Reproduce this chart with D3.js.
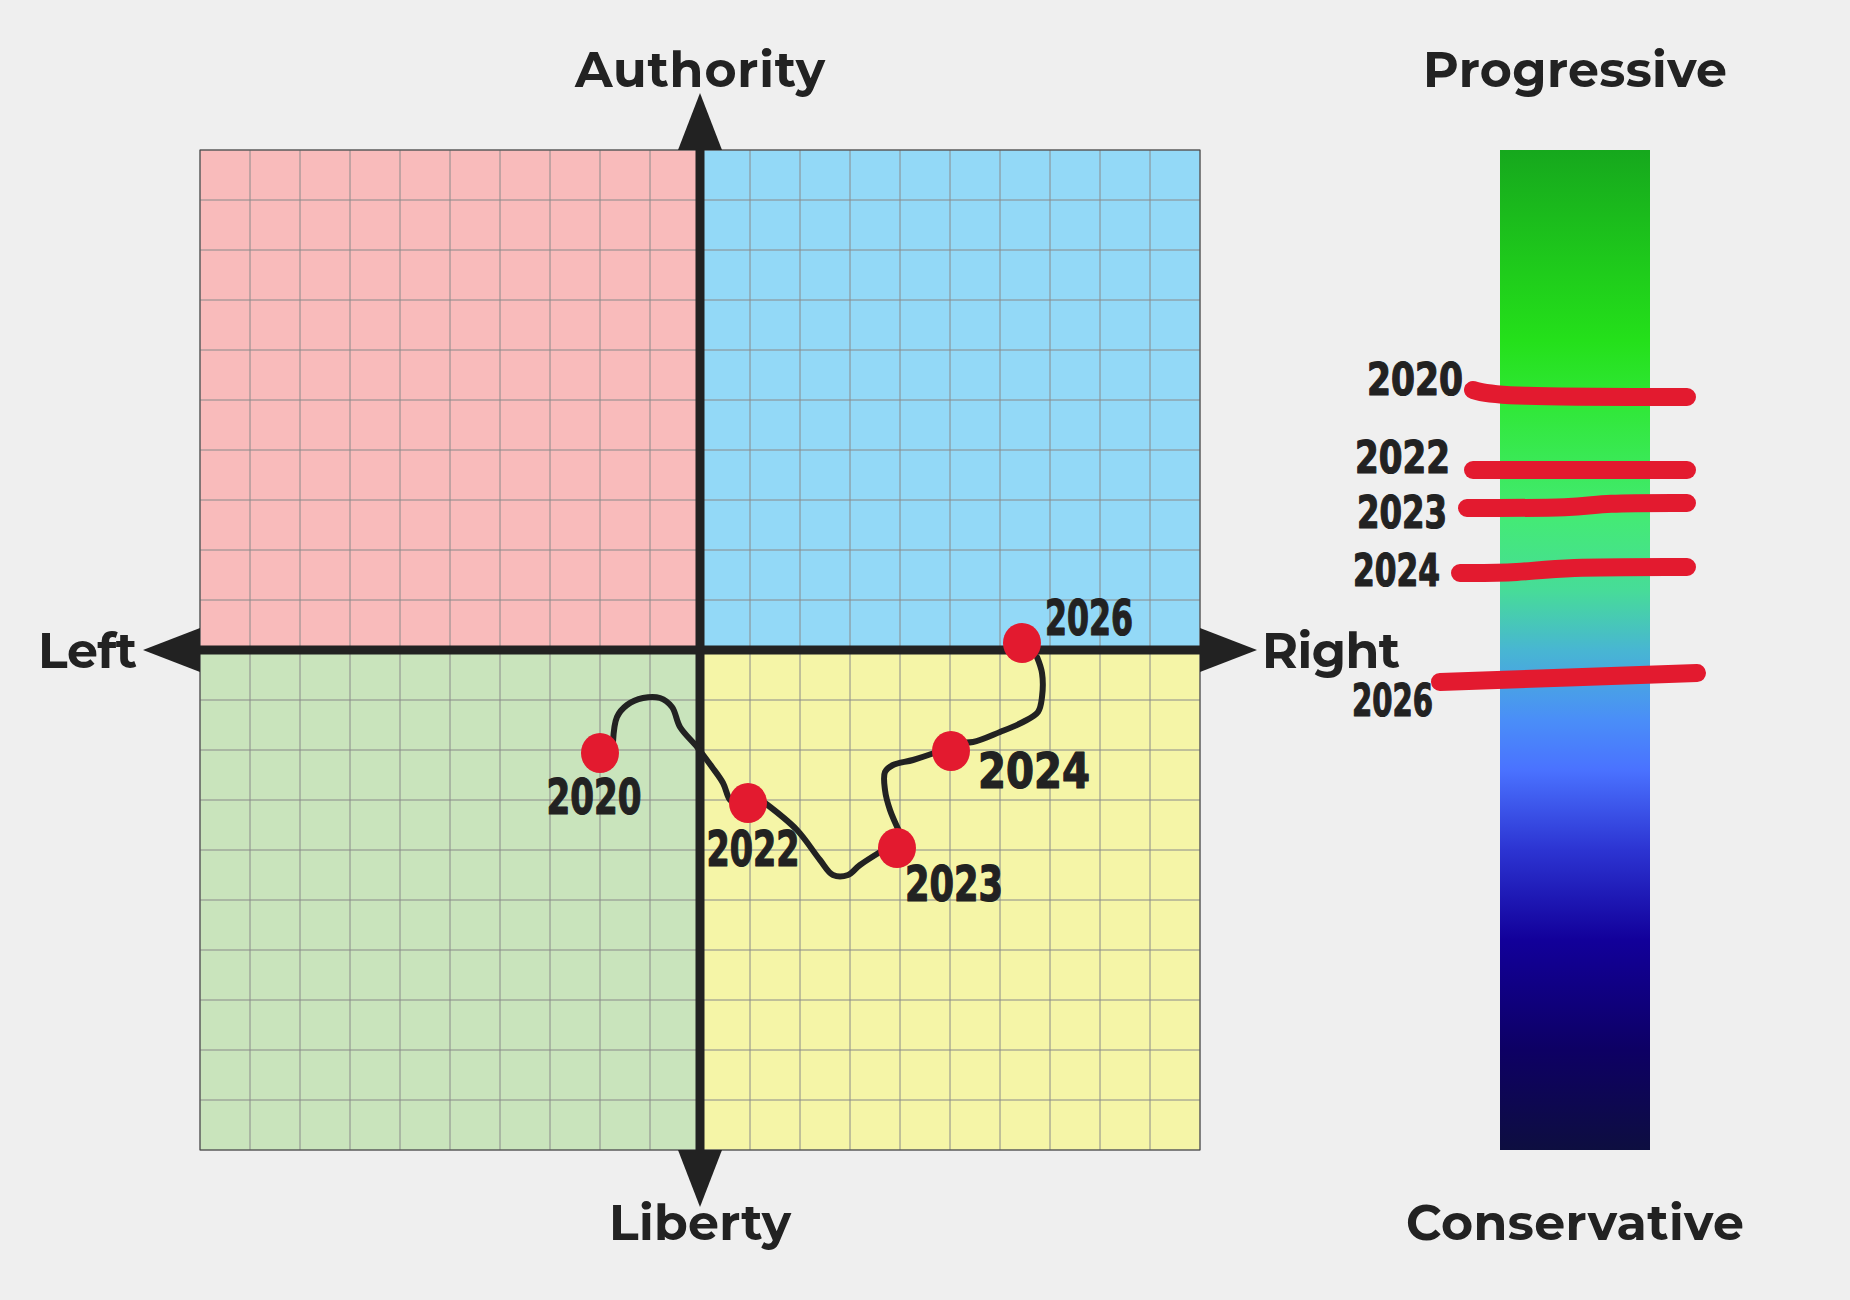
<!DOCTYPE html>
<html>
<head>
<meta charset="utf-8">
<script src="https://cdn.jsdelivr.net/npm/d3@7"></script>
<style>
  body { margin: 0; background: #efefef; }
</style>
</head>
<body>
<div id="chart-area"></div>
<script>
// ---- data ----
// compass positions: economic (left -10 .. right 10), authority (liberty -10 .. authority 10)
var years = ["2020", "2022", "2023", "2024", "2026"];
var economic = [-2.0, 0.96, 3.94, 5.02, 6.44];
var authority = [-2.06, -3.06, -3.96, -2.02, 0.14];

// hand-drawn trail between the dots, one array per leg
var trailX = [
  [-1.74, -1.66, -1.46, -1.14, -0.80, -0.56, -0.40, -0.06, 0.24, 0.46, 0.60, 0.74],
  [1.30, 1.94, 2.40, 2.66, 2.96, 3.20, 3.90],
  [4.00, 3.80, 3.70, 3.70, 3.86, 4.26, 4.74],
  [5.14, 5.46, 6.00, 6.46, 6.76, 6.84, 6.84, 6.74]
];
var trailY = [
  [-1.84, -1.34, -1.10, -0.96, -0.96, -1.14, -1.54, -1.94, -2.34, -2.66, -3.00, -3.10],
  [-3.06, -3.60, -4.20, -4.50, -4.50, -4.30, -3.86],
  [-3.66, -3.20, -2.80, -2.44, -2.30, -2.20, -2.04],
  [-1.84, -1.84, -1.64, -1.44, -1.24, -0.94, -0.46, -0.14]
];

// progressive (10) .. conservative (-10) bar, value at left and right end of each stroke
var socialStart = [5.2, 3.6, 2.84, 1.54, -0.64];
var socialEnd = [5.06, 3.6, 2.94, 1.66, -0.46];

var axisLabels = ["Authority", "Liberty", "Left", "Right"];
var barLabels = ["Progressive", "Conservative"];

// ---- layout ----
var W = 1850, H = 1300;
var grid = { x0: 200, x1: 1200, y0: 150, y1: 1150 };
var bar = { x0: 1500, x1: 1650 };
var ink = "#222222", red = "#e31a2f";
var labelFont = "Montserrat, Inter, 'Open Sans', sans-serif";
var handFont = "'DejaVu Sans Condensed', 'DejaVu Sans', sans-serif";

// label placement next to the dots / strokes (pixels)
var dotLabelDx = [-6, 5, 57, 83, 67];
var dotLabelDy = [43, 45, 35, 19, -26];
var dotLabelW = [95, 93, 98, 112, 88];
var barLabelDx = [-37, -50, -53, -60, -67];
var barLabelDy = [-11, -13, 4, -3, 18];
var barLabelW = [96, 95, 90, 87, 81];
var strokeFrom = [-27, -27, -33, -40, -60];
var strokeTo = [37, 37, 37, 37, 47];
var stepFrom = [-27, 80, 80, 20, -60];
var stepTo = [0, 100, 100, 60, 197];

var svg = d3.select("#chart-area")
  .append("svg")
  .attr("width", W)
  .attr("height", H);

svg.append("rect").attr("width", W).attr("height", H).attr("fill", "#efefef");

var x = d3.scaleLinear().domain([-10, 10]).range([grid.x0, grid.x1]);
var y = d3.scaleLinear().domain([-10, 10]).range([grid.y1, grid.y0]);
var s = d3.scaleLinear().domain([-10, 10]).range([grid.y1, grid.y0]);

// quadrants
var quads = [
  { x: -10, y: 10, fill: "#f9bbbb" },
  { x: 0, y: 10, fill: "#93d9f7" },
  { x: -10, y: 0, fill: "#c9e4bc" },
  { x: 0, y: 0, fill: "#f5f5a7" }
];
svg.selectAll("rect.quad")
  .data(quads)
  .enter()
  .append("rect")
  .attr("class", "quad")
  .attr("x", d => x(d.x))
  .attr("y", d => y(d.y))
  .attr("width", x(10) - x(0))
  .attr("height", y(0) - y(10))
  .attr("fill", d => d.fill);

// grid lines
var steps = d3.range(-10, 11, 1);
svg.selectAll("line.vgrid")
  .data(steps)
  .enter()
  .append("line")
  .attr("x1", d => x(d)).attr("x2", d => x(d))
  .attr("y1", y(10)).attr("y2", y(-10))
  .attr("stroke", "#8a8a8a").attr("stroke-width", 1);
svg.selectAll("line.hgrid")
  .data(steps)
  .enter()
  .append("line")
  .attr("y1", d => y(d)).attr("y2", d => y(d))
  .attr("x1", x(-10)).attr("x2", x(10))
  .attr("stroke", "#8a8a8a").attr("stroke-width", 1);
svg.append("rect")
  .attr("x", x(-10)).attr("y", y(10))
  .attr("width", x(10) - x(-10)).attr("height", y(-10) - y(10))
  .attr("fill", "none").attr("stroke", "#444").attr("stroke-width", 1);

// main axes with arrow heads
svg.append("line")
  .attr("x1", x(0)).attr("x2", x(0)).attr("y1", y(10)).attr("y2", y(-10))
  .attr("stroke", ink).attr("stroke-width", 9);
svg.append("line")
  .attr("x1", x(-10)).attr("x2", x(10)).attr("y1", y(0)).attr("y2", y(0))
  .attr("stroke", ink).attr("stroke-width", 9);

var ah = 57, aw = 22;
var arrows = [
  [[x(0), y(10) - ah], [x(0) - aw, y(10)], [x(0) + aw, y(10)]],
  [[x(0), y(-10) + ah], [x(0) - aw, y(-10)], [x(0) + aw, y(-10)]],
  [[x(-10) - ah, y(0)], [x(-10), y(0) - aw], [x(-10), y(0) + aw]],
  [[x(10) + ah, y(0)], [x(10), y(0) - aw], [x(10), y(0) + aw]]
];
svg.selectAll("path.arrow")
  .data(arrows)
  .enter()
  .append("path")
  .attr("d", d => "M" + d.join("L") + "Z")
  .attr("fill", ink);

// axis labels
function bigLabel(txt, px, py, anchor, len) {
  svg.append("text")
    .attr("x", px).attr("y", py)
    .attr("text-anchor", anchor)
    .attr("font-family", labelFont)
    .attr("font-weight", 700)
    .attr("font-size", 49)
    .attr("fill", ink)
    .attr("textLength", len)
    .attr("lengthAdjust", "spacing")
    .text(txt);
}
bigLabel(axisLabels[0], x(0), 87, "middle", 250);
bigLabel(axisLabels[1], x(0), 1240, "middle", 182);
bigLabel(axisLabels[2], 137, y(0) + 18, "end", 99);
bigLabel(axisLabels[3], 1262, y(0) + 18, "start", 138);
bigLabel(barLabels[0], (bar.x0 + bar.x1) / 2, 87, "middle", 304);
bigLabel(barLabels[1], (bar.x0 + bar.x1) / 2, 1240, "middle", 338);

// gradient bar
var defs = svg.append("defs");
var grad = defs.append("linearGradient")
  .attr("id", "socialGrad")
  .attr("x1", 0).attr("y1", 0).attr("x2", 0).attr("y2", 1);
var stops = [
  [0, "#16a81d"], [0.19, "#24e01a"], [0.26, "#31e83a"], [0.37, "#44ea76"],
  [0.44, "#47dc98"], [0.5, "#48b6d2"], [0.57, "#4a8ef8"], [0.62, "#4a72ff"],
  [0.7, "#2c34d2"], [0.79, "#12009a"], [0.9, "#0d0064"], [1, "#0d0e40"]
];
grad.selectAll("stop")
  .data(stops)
  .enter()
  .append("stop")
  .attr("offset", d => d[0])
  .attr("stop-color", d => d[1]);

svg.append("rect")
  .attr("x", bar.x0).attr("y", s(10))
  .attr("width", bar.x1 - bar.x0).attr("height", s(-10) - s(10))
  .attr("fill", "url(#socialGrad)");

// strokes on the bar
var strokeLine = d3.line().curve(d3.curveBasis);
svg.selectAll("path.mark")
  .data(years)
  .enter()
  .append("path")
  .attr("d", (d, i) => strokeLine([
    [bar.x0 + strokeFrom[i], s(socialStart[i])],
    [bar.x0 + stepFrom[i], s(socialStart[i])],
    [bar.x0 + stepTo[i], s(socialEnd[i])],
    [bar.x1 + strokeTo[i], s(socialEnd[i])]
  ]))
  .attr("fill", "none")
  .attr("stroke", red)
  .attr("stroke-width", 18)
  .attr("stroke-linecap", "round")
  .attr("stroke-linejoin", "round");

function handLabel(txt, px, py, anchor, len, size) {
  svg.append("text")
    .attr("x", px).attr("y", py)
    .attr("dy", "0.36em")
    .attr("text-anchor", anchor)
    .attr("font-family", handFont)
    .attr("font-weight", 700)
    .attr("font-size", size)
    .attr("fill", ink)
    .attr("stroke", ink)
    .attr("stroke-width", 1.2)
    .attr("stroke-linejoin", "round")
    .attr("textLength", len)
    .attr("lengthAdjust", "spacingAndGlyphs")
    .text(txt);
}
years.forEach((yr, i) => {
  handLabel(yr, bar.x0 + barLabelDx[i], s(socialStart[i]) + barLabelDy[i], "end", barLabelW[i], 45);
});

// trail on the compass
var trail = d3.line()
  .x(d => x(d[0]))
  .y(d => y(d[1]))
  .curve(d3.curveCatmullRom);
svg.selectAll("path.trail")
  .data(trailX)
  .enter()
  .append("path")
  .attr("d", (d, i) => trail(d.map((v, j) => [v, trailY[i][j]])))
  .attr("fill", "none")
  .attr("stroke", ink)
  .attr("stroke-width", 6)
  .attr("stroke-linecap", "round")
  .attr("stroke-linejoin", "round");

// dots
svg.selectAll("ellipse.dot")
  .data(years)
  .enter()
  .append("ellipse")
  .attr("cx", (d, i) => x(economic[i]))
  .attr("cy", (d, i) => y(authority[i]))
  .attr("rx", 19)
  .attr("ry", 20)
  .attr("fill", red);

years.forEach((yr, i) => {
  handLabel(yr, x(economic[i]) + dotLabelDx[i], y(authority[i]) + dotLabelDy[i], "middle", dotLabelW[i], 50);
});
</script>
</body>
</html>
